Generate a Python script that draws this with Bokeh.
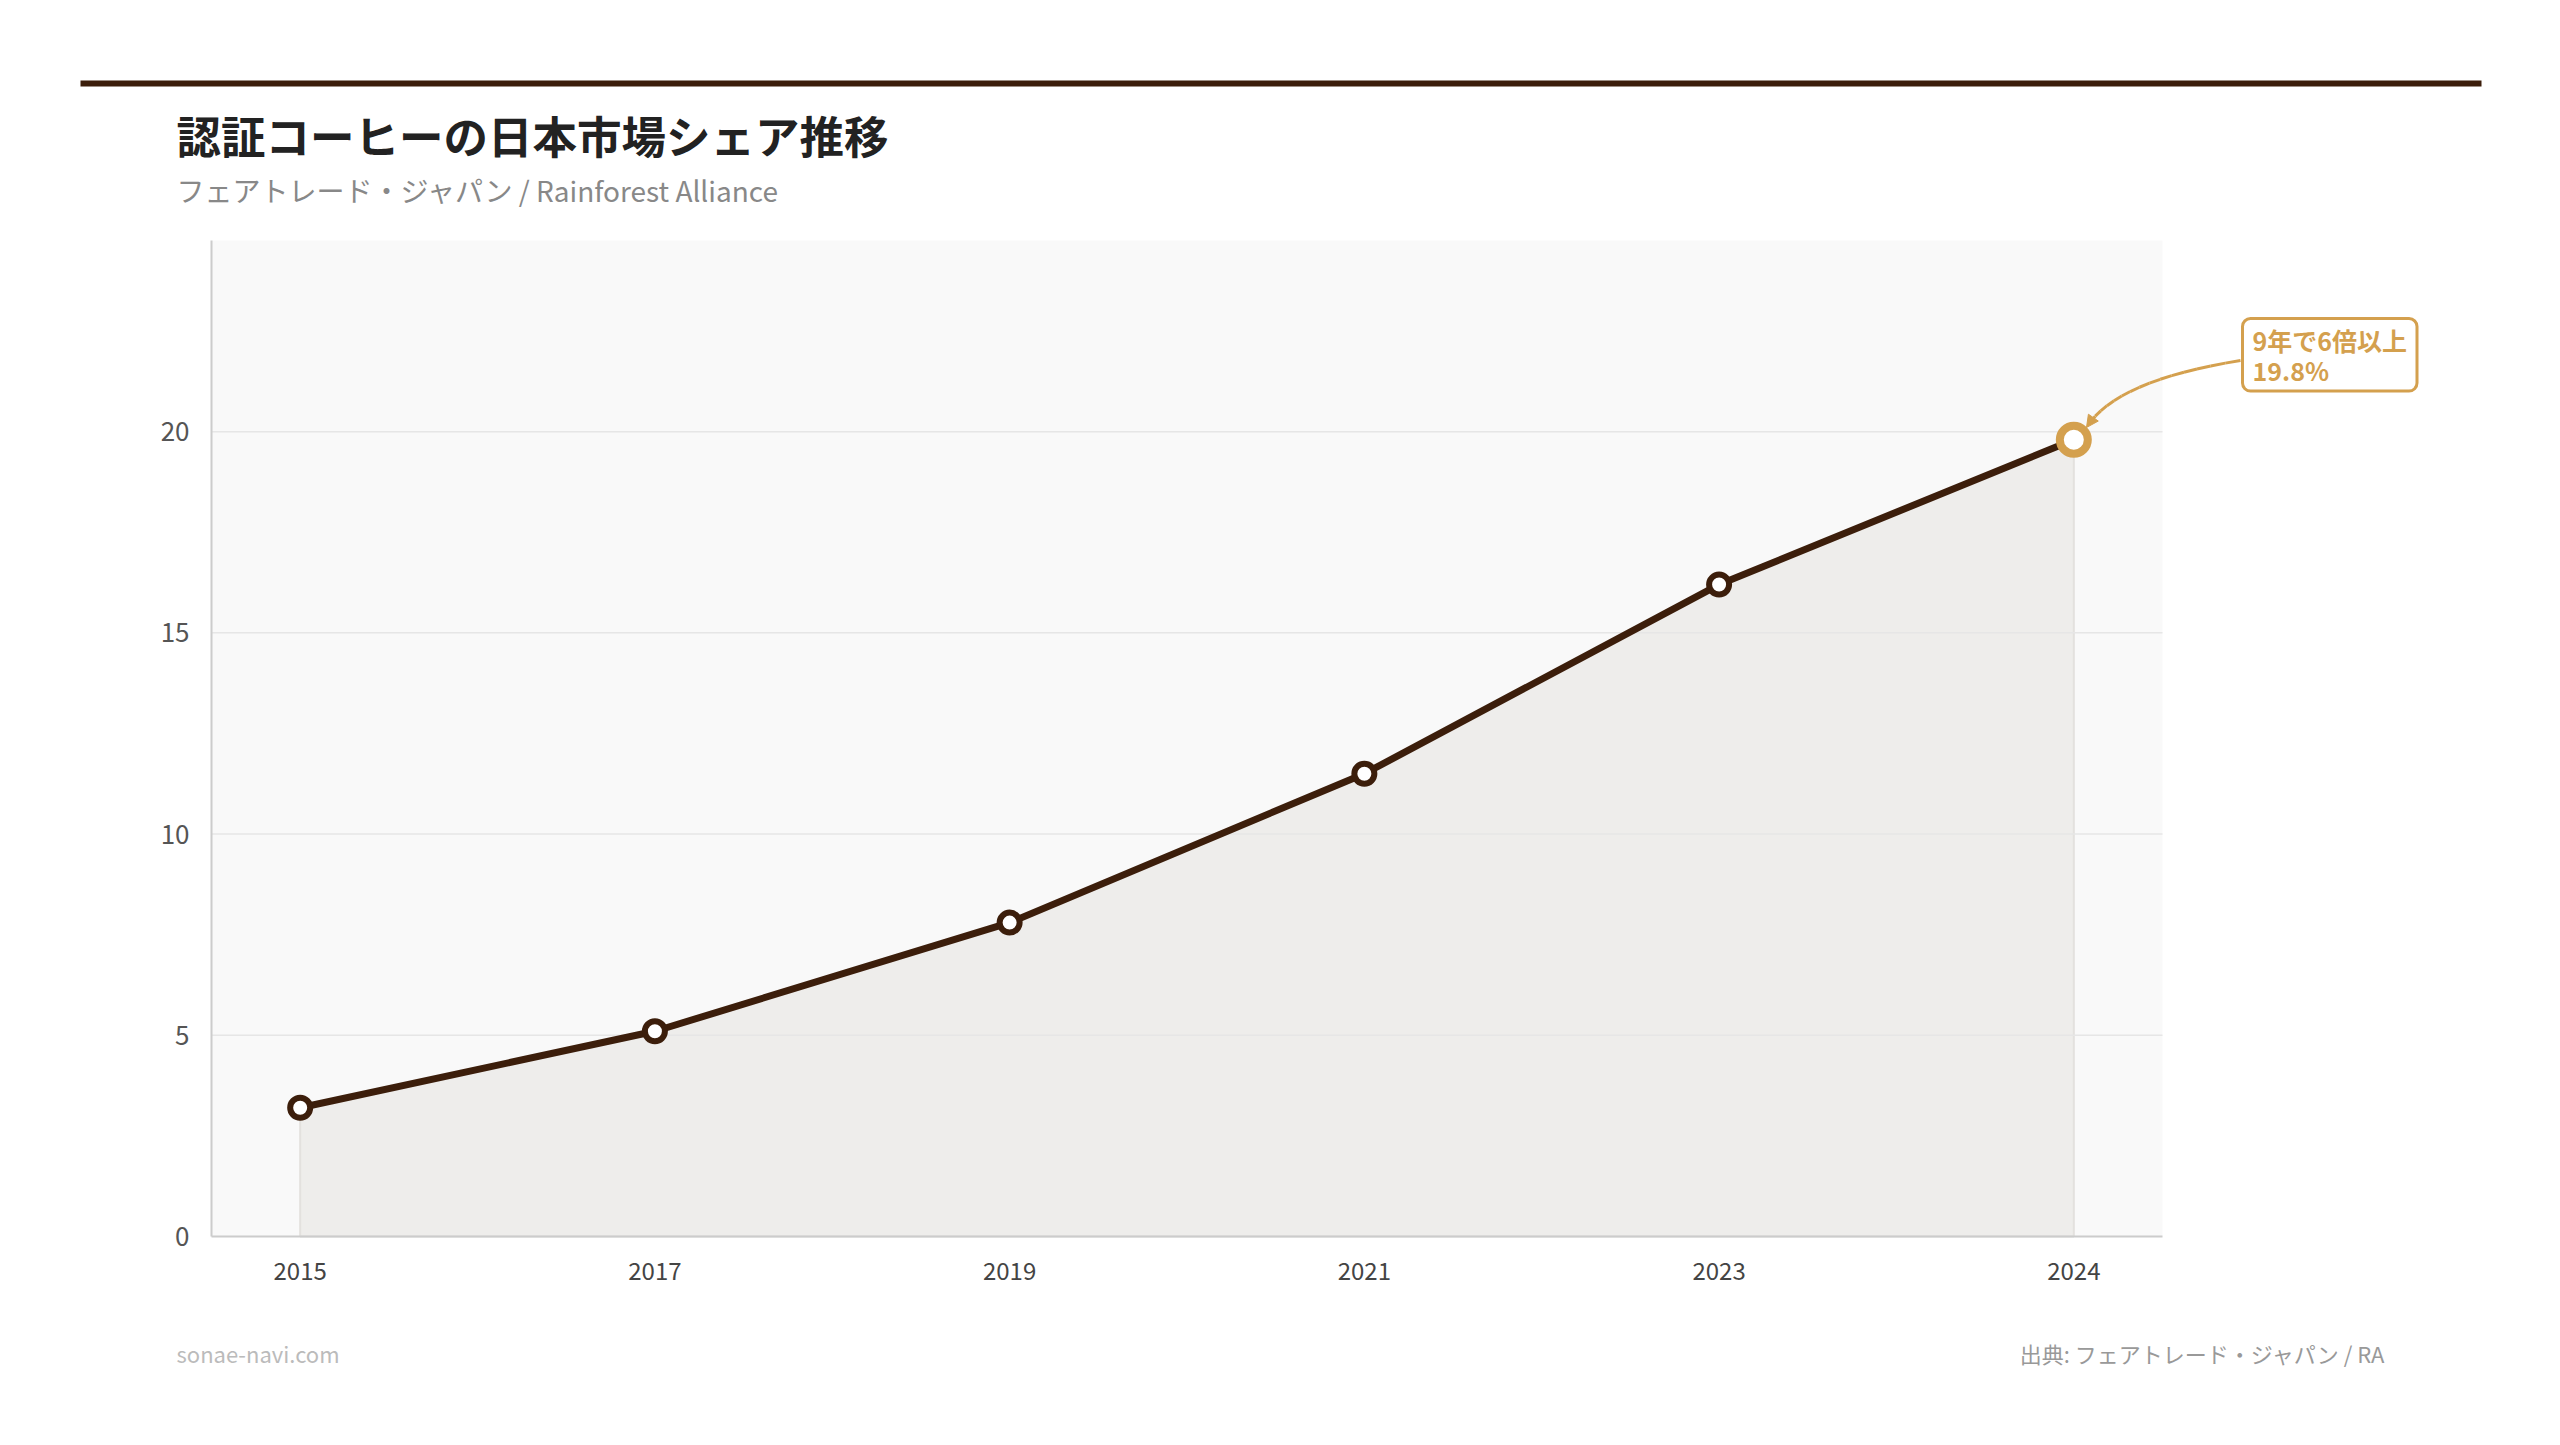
import numpy as np
from bokeh.plotting import figure
from bokeh.models import Label, Arrow, NormalHead, FixedTicker, Range1d
from bokeh.embed import file_html
from bokeh.resources import INLINE

# data
years = [2015, 2017, 2019, 2021, 2023, 2024]
share = [3.2, 5.1, 7.8, 11.5, 16.2, 19.8]
y_ticks = [0, 5, 10, 15, 20]
y_max = 24.75

title = "認証コーヒーの日本市場シェア推移"
subtitle = "フェアトレード・ジャパン / Rainforest Alliance"
note = "9年で6倍以上\n19.8%"
site = "sonae-navi.com"
credit = "出典: フェアトレード・ジャパン / RA"

BROWN = "#3c1e0b"
GOLD = "#d4a04e"
FONT = "Noto Sans CJK JP"

# page layout in pixels; the frame covers nearly the whole canvas so that
# titles, footer and callout are drawn inside it
W, H = 2560, 1445
L, B = 70, 70
PX0, PX1, PY0, PY1 = 211, 2162, 240, 1236   # plot area
idx = list(range(len(years)))
x_lo, x_hi = -0.25, len(years) - 0.75
ppx = (PX1 - PX0) / (x_hi - x_lo)
ppy = (PY1 - PY0) / y_max


def dx(px):
    return x_lo + (px - PX0) / ppx


def dy(py):
    return (PY1 - py) / ppy


p = figure(frame_width=W - L, frame_height=H - B,
           min_border_left=L, min_border_right=0,
           min_border_top=0, min_border_bottom=B,
           x_range=Range1d(dx(L), dx(W)), y_range=Range1d(dy(H - B), dy(0)),
           output_backend="svg", toolbar_location=None)

p.background_fill_color = "white"
p.border_fill_color = "white"
p.outline_line_color = None
p.xgrid.grid_line_color = None
p.ygrid.grid_line_color = None

# plot area
p.quad(left=x_lo, right=x_hi, bottom=0, top=y_max, fill_color="#f9f9f9", line_color=None)

p.xaxis.fixed_location = 0
p.xaxis.bounds = (x_lo, x_hi)
p.yaxis.fixed_location = x_lo
p.yaxis.bounds = (0, y_max)
p.xaxis.ticker = FixedTicker(ticks=idx)
p.xaxis.major_label_overrides = {i: str(y) for i, y in zip(idx, years)}
p.yaxis.ticker = FixedTicker(ticks=y_ticks)
for ax in (p.xaxis, p.yaxis):
    ax.axis_line_color = "#cccccc"
    ax.axis_line_width = 2
    ax.major_tick_line_color = None
    ax.minor_tick_line_color = None
    ax.major_tick_out = 0
    ax.major_tick_in = 0
    ax.major_label_text_font = FONT
p.xaxis.major_label_text_font_size = "24px"
p.xaxis.major_label_text_color = "#444444"
p.xaxis.major_label_standoff = 25
p.yaxis.major_label_text_font_size = "26px"
p.yaxis.major_label_text_color = "#555555"
p.yaxis.major_label_standoff = 22

# area under the line
p.patch(idx + [idx[-1], idx[0]], share + [0, 0],
        fill_color="#eeedeb", line_color="#e3e1de", line_width=2)
# grid lines
p.segment(x0=x_lo, x1=x_hi, y0=y_ticks[1:], y1=y_ticks[1:],
          line_color="#e6e6e6", line_width=1.5)
p.line(idx, share, line_width=7, color=BROWN)
p.scatter(idx[:-1], share[:-1], size=20, line_width=6,
          line_color=BROWN, fill_color="white")
p.scatter(idx[-1:], share[-1:], size=28, line_width=8,
          line_color=GOLD, fill_color="white")

# top rule
p.quad(left=dx(80), right=dx(2481), top=dy(80), bottom=dy(86),
       fill_color=BROWN, line_color=None)

p.add_layout(Label(x=dx(176), y=dy(134), text=title, text_font=FONT,
                   text_font_size="44.5px", text_font_style="bold",
                   text_color="#222222", text_baseline="middle"))
p.add_layout(Label(x=dx(176), y=dy(189), text=subtitle, text_font=FONT,
                   text_font_size="28px", text_color="#888888",
                   text_baseline="middle"))
p.add_layout(Label(x=dx(176), y=dy(1352), text=site, text_font=FONT,
                   text_font_size="22px", text_color="#bbbbbb",
                   text_baseline="middle"))
p.add_layout(Label(x=dx(2384), y=dy(1352), text=credit, text_font=FONT,
                   text_font_size="22px", text_color="#999999",
                   text_baseline="middle", text_align="right"))

# callout box
p.add_layout(Label(x=dx(2242), y=dy(318), text=note, text_font=FONT,
                   text_font_size="25px", text_font_style="bold",
                   text_color=GOLD, text_line_height=0.85,
                   anchor="top_left", padding=(10, 3),
                   background_fill_color="white", border_line_color=GOLD,
                   border_line_width=3, border_radius=8))

# curved pointer
p0 = np.array([2240.0, 360.0])
c = np.array([2115.0, 380.0])
p2 = np.array([2086.0, 427.0])
t = np.linspace(0, 1, 17)
pts = [(1 - s) ** 2 * p0 + 2 * (1 - s) * s * c + s ** 2 * p2 for s in t]
for i in range(len(pts) - 1):
    a, b = pts[i], pts[i + 1]
    head = NormalHead(size=12, fill_color=GOLD, line_color=GOLD) if i == len(pts) - 2 else None
    p.add_layout(Arrow(x_start=dx(a[0]), y_start=dy(a[1]), x_end=dx(b[0]), y_end=dy(b[1]),
                       line_color=GOLD, line_width=3, end=head))

open("out.html", "w").write(file_html(p, INLINE))
